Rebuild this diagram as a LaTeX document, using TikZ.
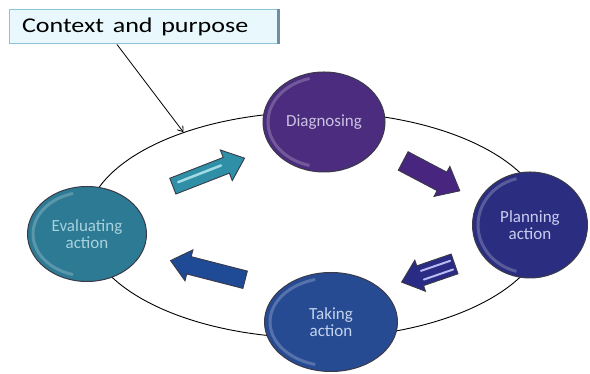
\documentclass[tikz,border=0pt]{standalone}
\usepackage{fontspec}
\usepackage{graphicx}
\setmainfont{Carlito}
\usetikzlibrary{shapes.geometric,shapes.arrows,arrows.meta,calc}
\definecolor{ctxfill}{HTML}{E8F8FC}
\definecolor{ctxborder}{HTML}{8EC3D6}
\definecolor{ctxshadow}{HTML}{6F8FA5}
\definecolor{cdiag}{HTML}{4B2C7E}
\definecolor{tdiag}{HTML}{CBC2E2}
\definecolor{cplan}{HTML}{2B2D80}
\definecolor{tplan}{HTML}{CACDEF}
\definecolor{ctake}{HTML}{274B93}
\definecolor{ttake}{HTML}{C4D3EE}
\definecolor{ceval}{HTML}{2C7A93}
\definecolor{teval}{HTML}{A8D2DE}
\definecolor{ateal}{HTML}{2E8FA6}
\definecolor{steal}{HTML}{A3DAE6}
\definecolor{apurple}{HTML}{48257F}
\definecolor{anavy}{HTML}{2A2B85}
\definecolor{snavy}{HTML}{B9BAF0}
\definecolor{ablue}{HTML}{1F4A95}
\definecolor{stageborder}{HTML}{3A3A48}
\newcommand\myrim[3]{\draw[rimline] ([shift={(105:#2 and #3)}]#1.center) arc[start angle=105,end angle=255,x radius=#2,y radius=#3];}
\begin{document}
\begin{tikzpicture}[x=1pt,y=1pt,
  cyclering/.style={ellipse, draw=black, line width=0.9pt, minimum width=460pt, minimum height=226pt, inner sep=0},
  ctxbox/.style={draw=ctxborder, line width=1pt, fill=ctxfill, minimum width=269pt, minimum height=34pt,
    text width=243pt, inner xsep=13pt, inner ysep=0pt, align=left, font=\fontsize{21}{25}\selectfont},
  ctxarrow/.style={draw=black, line width=0.8pt, -{Straight Barb[length=5pt,width=7pt]}},
  stage/.style={ellipse, draw=stageborder, line width=1pt, inner sep=0, align=center,
    font=\fontsize{17}{17}\selectfont},
  rimline/.style={draw=white, opacity=0.22, line width=3pt},
  blockarrow/.style={single arrow, draw=stageborder, line width=0.9pt, inner xsep=0pt, single arrow tip angle=80},
  stripe/.style={line width=2.5pt, line cap=round}
]
\useasboundingbox (0,0) rectangle (590,374);
\fill[white] (0,0) rectangle (590,374);

% the cycle
\node[cyclering] (cycle) at (316,149) {};

% context box and its arrow
\node[ctxbox] (ctx) at (143.5,347) {\scalebox{1.24}[1]{Context and purpose}};
\draw[ctxshadow, line width=2.5pt] (ctx.north east) -- (ctx.south east);
\draw[ctxarrow] ([xshift=-26.5pt]ctx.south) -- (cycle.145.7);

% stages
\node[stage, fill=cdiag, text=tdiag, minimum width=122pt, minimum height=100pt] (diag) at (324,252) {Diagnosing};
\node[stage, fill=cplan, text=tplan, minimum width=115pt, minimum height=106pt] (plan) at (530,149) {Planning\\action};
\node[stage, fill=ctake, text=ttake, minimum width=133pt, minimum height=99pt] (take) at (331,52) {Taking\\action};
\node[stage, fill=ceval, text=teval, minimum width=119pt, minimum height=95pt] (eval) at (87,140) {Evaluating\\action};
\myrim{diag}{56pt}{45pt}
\myrim{plan}{52pt}{48pt}
\myrim{take}{61pt}{44pt}
\myrim{eval}{54pt}{42pt}

% block arrows
\node[blockarrow, fill=ateal, minimum height=77pt, inner ysep=8pt, single arrow head extend=8pt, rotate=21.3] (a1) at (204,200) {};
\node[blockarrow, fill=apurple, minimum height=64pt, inner ysep=10pt, single arrow head extend=6.5pt, rotate=-27.8] (a2) at (426,201) {};
\node[blockarrow, fill=anavy, minimum height=56pt, inner ysep=10pt, single arrow head extend=6pt, rotate=199] (a3) at (434,103) {};
\node[blockarrow, fill=ablue, minimum height=77pt, inner ysep=8.5pt, single arrow head extend=7pt, rotate=165.6] (a4) at (213,102.5) {};

% highlights on the block arrows
\draw[stripe, steal] ($($(a1.before tail)!0.6!(a1.after tail)$)!0.12!($(a1.before head)!0.4!(a1.after head)$)$)
  -- ($($(a1.before tail)!0.6!(a1.after tail)$)!0.92!($(a1.before head)!0.4!(a1.after head)$)$);
\draw[stripe, snavy, line width=2pt] ($($(a3.before tail)!0.3!(a3.after tail)$)!0.1!($(a3.before head)!0.7!(a3.after head)$)$)
  -- ($($(a3.before tail)!0.3!(a3.after tail)$)!0.95!($(a3.before head)!0.7!(a3.after head)$)$);
\draw[stripe, snavy, line width=2pt] ($($(a3.before tail)!0.72!(a3.after tail)$)!0.1!($(a3.before head)!0.28!(a3.after head)$)$)
  -- ($($(a3.before tail)!0.72!(a3.after tail)$)!0.95!($(a3.before head)!0.28!(a3.after head)$)$);
\end{tikzpicture}
\end{document}
